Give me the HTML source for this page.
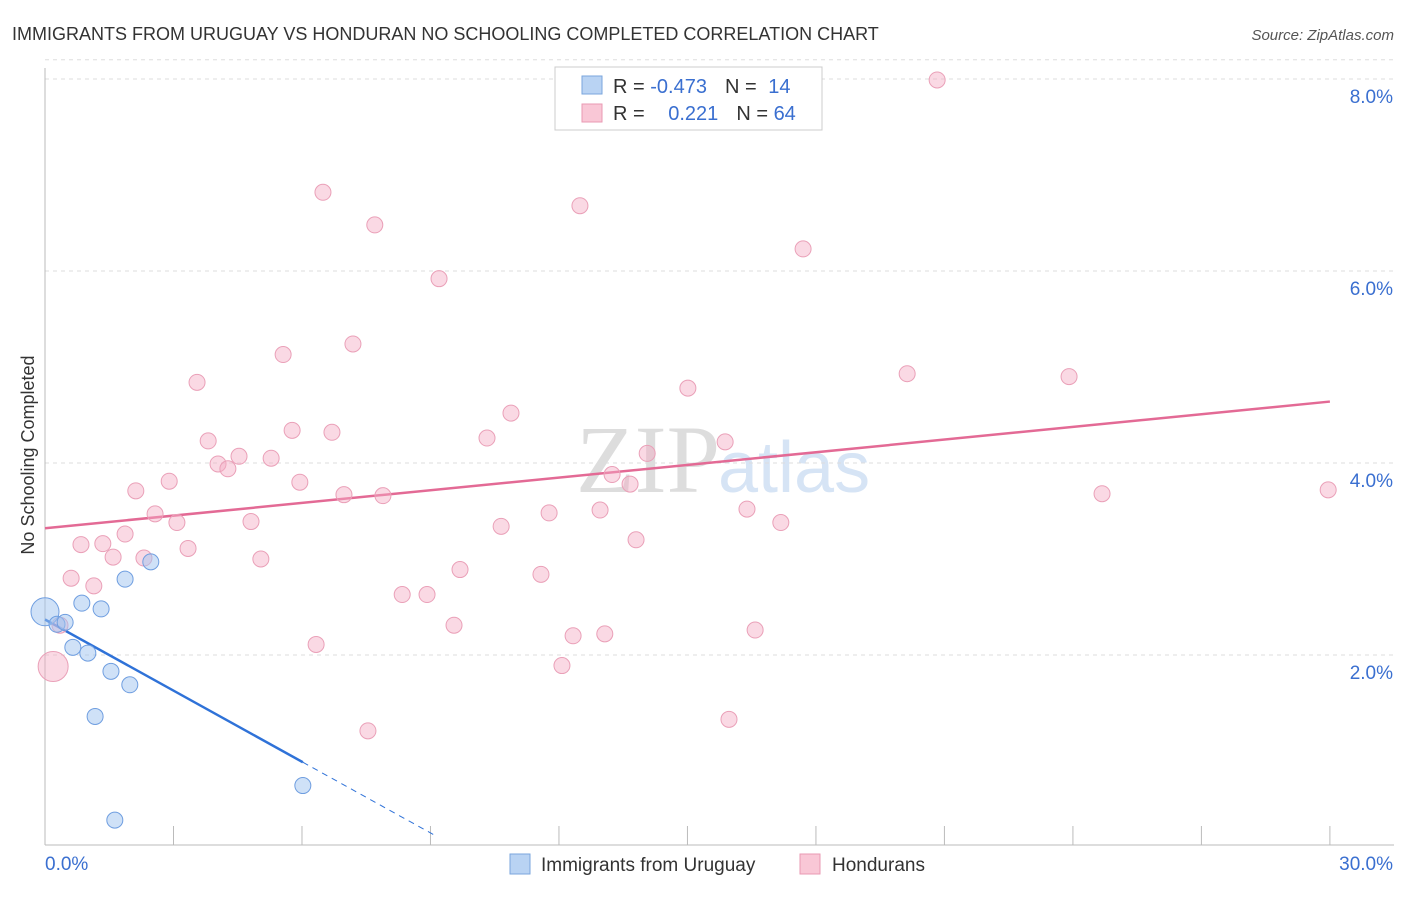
<!DOCTYPE html>
<html><head><meta charset="utf-8"><style>
body{margin:0;background:#fff;font-family:"Liberation Sans",sans-serif;}
svg text{font-family:"Liberation Sans",sans-serif;}
</style></head><body>
<svg width="1406" height="892" viewBox="0 0 1406 892" id="chart">
<text x="12" y="40" font-size="18" fill="#333">IMMIGRANTS FROM URUGUAY VS HONDURAN NO SCHOOLING COMPLETED CORRELATION CHART</text>
<text x="1394" y="40" font-size="15" fill="#555" font-style="italic" text-anchor="end">Source: ZipAtlas.com</text>
<text x="0" y="0" transform="translate(34,455) rotate(-90)" font-size="18" fill="#333" text-anchor="middle">No Schooling Completed</text>
<text x="720" y="492" font-size="96" fill="#ddd" text-anchor="end" font-family="Liberation Serif" style="font-family:'Liberation Serif',serif">ZIP</text>
<text x="718" y="492" font-size="72" fill="#d6e4f5">atlas</text>
<g id="grid"></g><g id="axes"></g><g id="trend"></g><g id="pts"></g>
<g>
<rect x="555" y="67" width="267" height="63" fill="#fff" stroke="#ccc"/>
<rect x="582" y="76" width="20" height="18" fill="#b9d3f3" stroke="#7aa6dd"/>
<rect x="582" y="104" width="20" height="18" fill="#f9c7d6" stroke="#e99ab3"/>
<text x="613" y="93" font-size="20" fill="#333">R = <tspan fill="#3a6fd0">-0.473</tspan><tspan dx="18">N = </tspan><tspan fill="#3a6fd0" dx="6">14</tspan></text>
<text x="613" y="120" font-size="20" fill="#333">R = <tspan fill="#3a6fd0" dx="18">0.221</tspan><tspan dx="18">N = </tspan><tspan fill="#3a6fd0">64</tspan></text>
</g>
<g>
<rect x="510" y="854" width="20" height="20" fill="#b9d3f3" stroke="#7aa6dd"/>
<text x="541" y="871" font-size="19" fill="#333">Immigrants from Uruguay</text>
<rect x="800" y="854" width="20" height="20" fill="#f9c7d6" stroke="#e99ab3"/>
<text x="832" y="871" font-size="19" fill="#333">Hondurans</text>
</g>
</svg>
<script>
const yTicks=[2,4,6,8];
const yTickLabels=["2.0%","4.0%","6.0%","8.0%"];
const xTicks=[0,3,6,9,12,15,18,21,24,27,30];
const xEndLabels=["0.0%","30.0%"];
const uruguayX=[0,0.86,1.87,2.47,1.31,0.28,0.47,0.65,1.00,1.54,1.98,1.17,6.02,1.63];
const uruguayY=[2.45,2.54,2.79,2.97,2.48,2.32,2.34,2.08,2.02,1.83,1.69,1.36,0.64,0.28];
const uruguayR=[14,8,8,8,8,8,8,8,8,8,8,8,8,8];
const hondX=[20.83,6.49,7.70,12.49,17.70,9.20,5.56,7.19,3.55,20.13,23.91,15.01,10.88,3.81,5.77,6.70,10.32,15.88,4.53,5.28,4.04,4.27,14.06,13.24,13.66,2.90,5.95,2.12,6.98,7.89,24.68,29.96,2.57,3.08,4.81,11.77,12.96,16.39,17.18,10.65,1.87,0.84,1.35,3.34,1.59,2.31,5.04,13.80,0.61,9.69,11.58,1.14,8.34,8.92,0.35,9.55,12.33,13.07,16.58,6.33,0.19,12.07,15.97,7.54];
const hondY=[7.99,6.82,6.48,6.68,6.23,5.92,5.13,5.24,4.84,4.93,4.90,4.78,4.52,4.23,4.34,4.32,4.26,4.22,4.07,4.05,3.99,3.94,4.10,3.88,3.78,3.81,3.80,3.71,3.67,3.66,3.68,3.72,3.47,3.38,3.39,3.48,3.51,3.52,3.38,3.34,3.26,3.15,3.16,3.11,3.02,3.01,3.00,3.20,2.80,2.89,2.84,2.72,2.63,2.63,2.31,2.31,2.20,2.22,2.26,2.11,1.88,1.89,1.33,1.21];
const uruTrend=[2.37,-0.247];
const hondTrend=[3.32,0.044];
const sx=v=>45+v*42.83, sy=v=>847-v*96;
const NS="http://www.w3.org/2000/svg";
function mk(g,tag,at){const e=document.createElementNS(NS,tag);for(const k in at)e.setAttribute(k,at[k]);document.getElementById(g).appendChild(e);return e;}
yTicks.forEach((t,i)=>{
 const l=mk('grid','line',{x1:45,x2:1394,y1:sy(t),y2:sy(t),stroke:'#ddd','stroke-dasharray':'4,4'});
 
 
 const tx=mk('grid','text',{x:1393,y:sy(t)+24,'font-size':19,fill:'#3a6fd0','text-anchor':'end'});
 tx.textContent=yTickLabels[i];
 
 
});
const tl=mk('grid','line',{x1:45,x2:1394,y1:sy(8.2),y2:sy(8.2),stroke:'#ddd','stroke-dasharray':'4,4'});


const ax=mk('axes','line',{x1:45,x2:1394,y1:845,y2:845,stroke:'#bbb'});


const ay=mk('axes','line',{x1:45,x2:45,y1:68,y2:845,stroke:'#bbb'});


xTicks.forEach(t=>{const l=mk('axes','line',{x1:sx(t),x2:sx(t),y1:826,y2:845,stroke:'#bbb'});
 
 });
const x0=mk('axes','text',{x:45,y:870,'font-size':19,fill:'#3a6fd0'});x0.textContent=xEndLabels[0];


const x1=mk('axes','text',{x:1393,y:870,'font-size':19,fill:'#3a6fd0','text-anchor':'end'});x1.textContent=xEndLabels[1];


hondX.forEach((x,i)=>{const c=mk('pts','circle',{cx:sx(x),cy:sy(hondY[i]),r:i==60?15:8,fill:'rgba(244,170,195,0.45)',stroke:'#eaa0b8','stroke-width':1});
 
 });
uruguayX.forEach((x,i)=>{const c=mk('pts','circle',{cx:sx(x),cy:sy(uruguayY[i]),r:uruguayR[i],fill:'rgba(160,196,240,0.5)',stroke:'#6f9ee0','stroke-width':1});
 
 });
const ue=6.02, ud=9.1;
let l1=mk('trend','line',{x1:sx(0),y1:sy(uruTrend[0]),x2:sx(ue),y2:sy(uruTrend[0]+uruTrend[1]*ue),stroke:'#2f72d8','stroke-width':2.5});


let l2=mk('trend','line',{x1:sx(ue),y1:sy(uruTrend[0]+uruTrend[1]*ue),x2:sx(ud),y2:sy(uruTrend[0]+uruTrend[1]*ud),stroke:'#2f72d8','stroke-width':1,'stroke-dasharray':'6,5'});


let l3=mk('trend','line',{x1:sx(0),y1:sy(hondTrend[0]),x2:sx(30),y2:sy(hondTrend[0]+hondTrend[1]*30),stroke:'#e36a95','stroke-width':2.5});


</script>
</body></html>
